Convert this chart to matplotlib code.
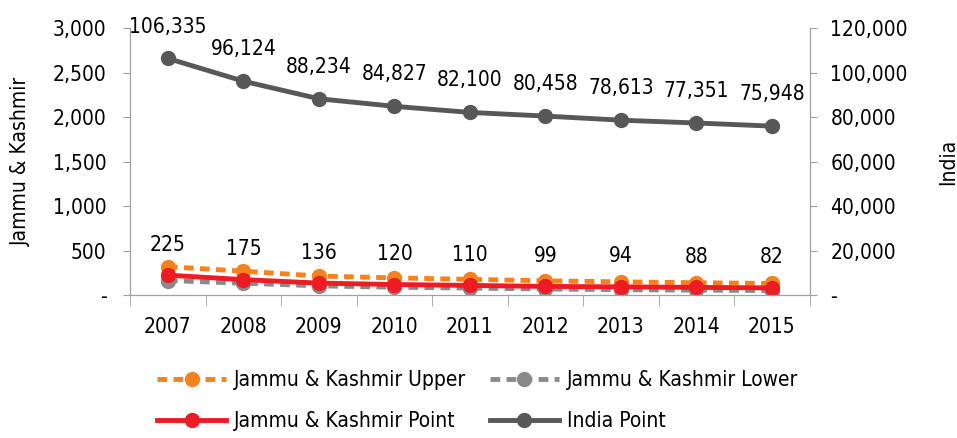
import matplotlib.pyplot as plt
import numpy as np
from matplotlib.ticker import FuncFormatter

plt.rcParams['font.family'] = ['DejaVu Sans']
plt.rcParams['font.stretch'] = 'condensed'

years = ['2007', '2008', '2009', '2010', '2011', '2012', '2013', '2014', '2015']
jk_upper = [320, 270, 215, 195, 178, 162, 150, 140, 132]
jk_lower = [165, 135, 105, 90, 80, 70, 62, 57, 52]
jk_point = [225, 175, 136, 120, 110, 99, 94, 88, 82]
india_point = [106335, 96124, 88234, 84827, 82100, 80458, 78613, 77351, 75948]

x = np.arange(len(years))


def fmt(v, _):
    return '-' if v == 0 else f'{int(v):,}'


fig = plt.figure(figsize=(9.57, 4.38), dpi=100)
ax = fig.add_axes([0.136, 0.326, 0.71, 0.61])
ax2 = ax.twinx()

ax.plot(x, jk_upper, color='#f5821f', lw=3.5, ls=(0, (2, 1.3)), marker='o', ms=10,
        label='Jammu & Kashmir Upper', zorder=3)
ax.plot(x, jk_lower, color='#8a8a8c', lw=3.5, ls=(0, (2, 1.3)), marker='o', ms=10,
        label='Jammu & Kashmir Lower', zorder=2)
ax.plot(x, jk_point, color='#ed1c24', lw=3.5, marker='o', ms=10,
        label='Jammu & Kashmir Point', zorder=4)
ax2.plot(x, india_point, color='#58585a', lw=3.5, marker='o', ms=10, label='India Point')

for xi, v in zip(x, jk_point):
    ax.annotate(f'{v:,}', (xi, v), xytext=(0, 22), textcoords='offset points',
                ha='center', va='center', fontsize=15)
for xi, v in zip(x, india_point):
    ax2.annotate(f'{v:,}', (xi, v), xytext=(0, 23), textcoords='offset points',
                 ha='center', va='center', fontsize=15)

ax.set_xlim(-0.5, len(years) - 0.5)
ax.set_ylim(0, 3000)
ax2.set_ylim(0, 120000)
ax.set_yticks(np.arange(0, 3001, 500))
ax2.set_yticks(np.arange(0, 120001, 20000))
ax.yaxis.set_major_formatter(FuncFormatter(fmt))
ax2.yaxis.set_major_formatter(FuncFormatter(fmt))

ax.set_xticks(x)
ax.set_xticklabels(years)
ax.set_xticks(np.arange(-0.5, len(years)), minor=True)
ax.tick_params(axis='x', which='major', length=0, pad=16, labelsize=15)
ax.tick_params(axis='x', which='minor', length=8, color='#a0a0a0', direction='out')
ax.tick_params(axis='y', labelsize=15, length=5, color='#a0a0a0', pad=12)
ax2.tick_params(axis='y', labelsize=15, length=5, color='#a0a0a0', pad=10)

ax.set_ylabel('Jammu & Kashmir', fontsize=15, labelpad=16)
ax2.set_ylabel('India', fontsize=15, labelpad=22)

for a in (ax, ax2):
    a.spines['top'].set_visible(False)
    for s in ('left', 'right', 'bottom'):
        a.spines[s].set_color('#a0a0a0')

h1, l1 = ax.get_legend_handles_labels()
h2, l2 = ax2.get_legend_handles_labels()
# column-major fill: Upper / Point in col 1, Lower / India in col 2
handles = [h1[0], h1[2], h1[1], h2[0]]
labels = [l1[0], l1[2], l1[1], l2[0]]
fig.legend(handles, labels, ncol=2, loc='center', bbox_to_anchor=(0.499, 0.085),
           frameon=False, fontsize=15, handlelength=3.3, columnspacing=1.15,
           labelspacing=1.0, handletextpad=0.38)

fig.savefig('out.png', dpi=100)
